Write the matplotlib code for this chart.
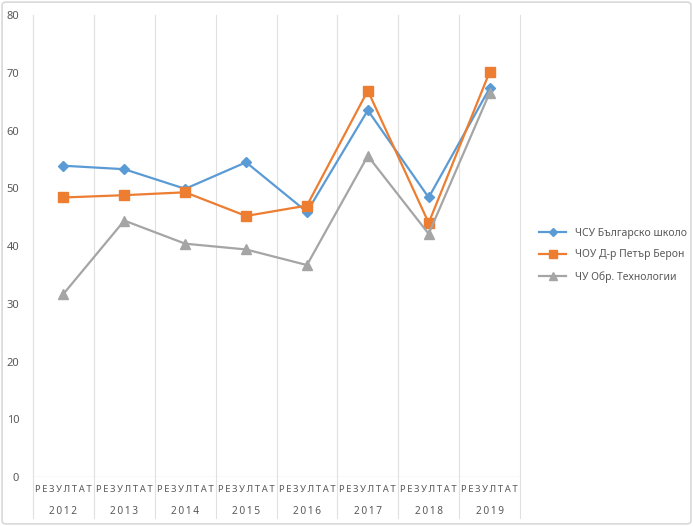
import matplotlib
matplotlib.use("Agg")
import matplotlib.pyplot as plt
from matplotlib.patches import FancyBboxPatch
import matplotlib.transforms as mtransforms

# data
years = ["2012", "2013", "2014", "2015", "2016", "2017", "2018", "2019"]
sub_label = "РЕЗУЛТАТ"
series_names = ["ЧСУ Българско школо", "ЧОУ Д-р Петър Берон", "ЧУ Обр. Технологии"]
blue_vals = [53.9, 53.3, 49.9, 54.5, 45.9, 63.5, 48.4, 67.3]
orange_vals = [48.4, 48.8, 49.3, 45.2, 47.0, 66.9, 44.0, 70.1]
gray_vals = [31.7, 44.4, 40.4, 39.4, 36.7, 55.6, 42.1, 66.5]

plt.rcParams['font.family'] = ['Noto Sans', 'DejaVu Sans']
text_col = '#595959'
grid_col = '#e0e0e0'

fig = plt.figure(figsize=(6.93, 5.26), dpi=100)
ax = fig.add_axes([33 / 693, 49 / 526, 487 / 693, 462 / 526])

# chart border
fig.patches.append(FancyBboxPatch((0.003, 0.004), 0.994, 0.992,
                                  boxstyle="round,pad=0,rounding_size=0.006",
                                  transform=fig.transFigure, fill=False,
                                  edgecolor='#d9d9d9', linewidth=1.2))

x = list(range(len(years)))
ax.plot(x, blue_vals, color='#5B9BD5', lw=1.6, marker='D', ms=5,
        label=series_names[0])
ax.plot(x, orange_vals, color='#ED7D31', lw=1.6, marker='s', ms=7,
        label=series_names[1])
ax.plot(x, gray_vals, color='#A5A5A5', lw=1.6, marker='^', ms=7,
        label=series_names[2])

ax.set_xlim(-0.5, len(years) - 0.5)
ax.set_ylim(0, 80)
ax.set_yticks(range(0, 81, 10))
ax.tick_params(axis='y', length=0, labelsize=8, labelcolor=text_col, pad=10)
ax.set_xticks([])
for s in ax.spines.values():
    s.set_visible(False)
ax.axhline(0, color=grid_col, lw=1, zorder=0)

# vertical category separators, running down through the label area
trans = mtransforms.blended_transform_factory(ax.transData, ax.transAxes)
for i in range(len(years) + 1):
    ax.plot([i - 0.5, i - 0.5], [1, -0.089], color=grid_col, lw=0.8,
            transform=trans, clip_on=False, zorder=0)

spaced_sub = "\u2009".join(sub_label)
for i, yr in enumerate(years):
    ax.text(i, -0.028, spaced_sub, transform=trans, ha='center', va='center',
            fontsize=6.8, color=text_col)
    ax.text(i, -0.074, "\u2009".join(yr), transform=trans, ha='center',
            va='center', fontsize=7.3, color=text_col)

ax.legend(loc='center left', bbox_to_anchor=(1.02, 0.48), frameon=False,
          fontsize=7.5, labelcolor=text_col, handlelength=2.6,
          labelspacing=1.0, markerscale=0.8)

fig.savefig("out.png", dpi=100)
